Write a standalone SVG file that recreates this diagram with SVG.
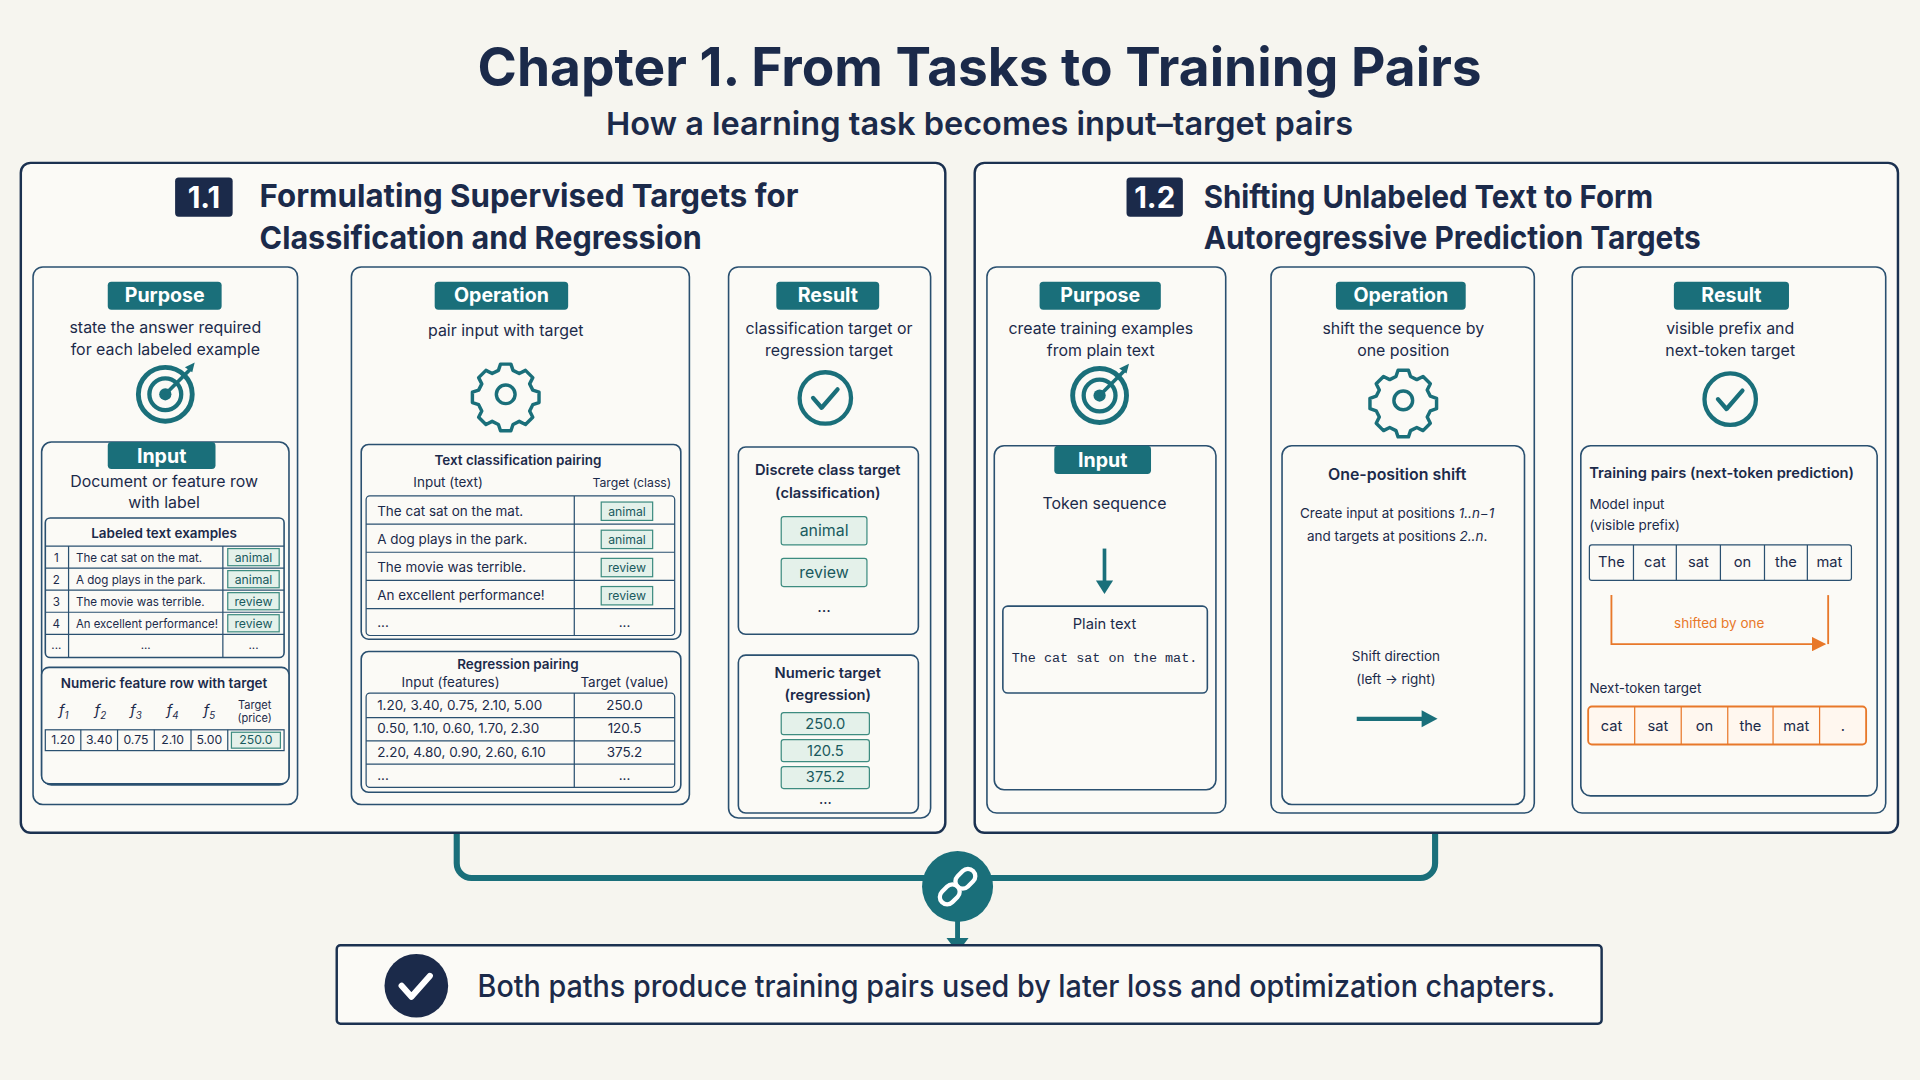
<svg xmlns="http://www.w3.org/2000/svg" width="1920" height="1080" viewBox="0 0 1920 1080">
<defs>
<style>
text{font-family:Inter,"Liberation Sans",sans-serif;fill:#1b2a4a}
.b{font-weight:700}
.panel{fill:#fbfaf6;stroke:#1b3150;stroke-width:2}
.col{fill:#fbfaf6;stroke:#2a5070;stroke-width:1.3}
.box{fill:#fbfaf6;stroke:#2a5070;stroke-width:1.3}
.pill{fill:#1a6f7a}
.pt{fill:#fff;font-weight:700;font-size:16px}
.lbl{fill:#e4f1ea;stroke:#3d8c80;stroke-width:1}
.lt{fill:#1a5a5e;font-size:10px}
.cell{fill:none;stroke:#2a5070;stroke-width:1}
.s12{font-size:12px}.s13{font-size:13px}.s11{font-size:11px}.s10{font-size:10px}
.ora{fill:#fff7ef;stroke:#e8782a;stroke-width:1.5}
</style>
<marker id="oa" markerWidth="8" markerHeight="8" refX="7" refY="4" orient="auto"><path d="M0,0L8,4L0,8z" fill="#e8782a"/></marker>
<g id="gear"><g transform="scale(0.85)"><path d="M-5,-24h10l2,6 6,3 6-3 7,7-3,6 3,6 6,2v10l-6,2-3,6 3,6-7,7-6-3-6,3-2,6h-10l-2-6-6-3-6,3-7-7 3-6-3-6-6-2v-10l6-2 3-6-3-6 7-7 6,3 6-3z" fill="none" stroke="#1a6f7a" stroke-width="3.3" stroke-linejoin="round" transform="translate(0,-5)"/><circle r="9" cy="0" fill="none" stroke="#1a6f7a" stroke-width="3.3"/></g></g>
<g id="target"><circle r="22" fill="none" stroke="#1a6f7a" stroke-width="4"/><circle r="13" fill="none" stroke="#1a6f7a" stroke-width="3.5"/><circle r="5" fill="#1a6f7a"/><path d="M0,0L20,-20" stroke="#1a6f7a" stroke-width="3"/><path d="M16,-22l8,-4-2,8z" fill="#1a6f7a"/></g>
<g id="check"><circle r="21" fill="none" stroke="#1a6f7a" stroke-width="3.5"/><path d="M-10,0l7,8 13,-15" fill="none" stroke="#1a6f7a" stroke-width="3.5" stroke-linecap="round" stroke-linejoin="round"/></g>
<path id="bigarrow" d="M0,-8h16v-10l16,18-16,18v-10h-16z" fill="#1a7a86"/>
</defs>
<rect width="1920" height="1080" fill="#f6f5ef"/>
<g transform="scale(1.22449)">
<text x="800" y="70" text-anchor="middle" class="b" font-size="44" textLength="820" lengthAdjust="spacingAndGlyphs">Chapter 1. From Tasks to Training Pairs</text>
<text x="800" y="110" text-anchor="middle" font-size="26" font-weight="600" textLength="610" lengthAdjust="spacingAndGlyphs">How a learning task becomes input–target pairs</text>

<g id="connectors">
<path d="M373,681V705a12,12 0 0 0 12,12H1160a12,12 0 0 0 12-12V681" fill="none" stroke="#1a6f7a" stroke-width="5"/>
<path d="M782,740V768" stroke="#1a6f7a" stroke-width="4"/><path d="M773,766h18l-9,12z" fill="#1a6f7a"/>
<circle cx="782" cy="724" r="29" fill="#1a6f7a"/>
<g transform="translate(782,724) rotate(-45)" fill="none" stroke="#fff" stroke-width="3.5"><rect x="-18" y="-6" width="18" height="12" rx="6"/><rect x="0" y="-6" width="18" height="12" rx="6"/></g>
<use href="#bigarrow" x="251" y="323"/><use href="#bigarrow" x="563" y="323"/>
<use href="#bigarrow" x="1004" y="323"/><use href="#bigarrow" x="1252" y="323"/>
</g>

<g id="panel1">
<rect class="panel" x="17" y="133" width="755" height="547" rx="8"/>
<rect x="143" y="145" width="47" height="32" rx="3" fill="#1b2a4a"/><text x="166.5" y="170" text-anchor="middle" font-size="24" class="b" style="fill:#fff">1.1</text>
<text x="212" y="169" class="b" font-size="26" textLength="440" lengthAdjust="spacingAndGlyphs">Formulating Supervised Targets for</text>
<text x="212" y="203" class="b" font-size="26" textLength="361" lengthAdjust="spacingAndGlyphs">Classification and Regression</text>
</g>
<g id="p1-purpose">
<rect class="col" x="27" y="218" width="216" height="439" rx="8"/>
<rect class="pill" x="88" y="230" width="93" height="23" rx="3"/><text class="pt" x="134.5" y="247" text-anchor="middle">Purpose</text>
<text x="135" y="272" text-anchor="middle" class="s13">state the answer required</text>
<text x="135" y="290" text-anchor="middle" class="s13">for each labeled example</text>
<use href="#target" x="135" y="322"/>
<rect class="box" x="34" y="361" width="202" height="280" rx="8"/>
<rect class="pill" x="88" y="361" width="88" height="22" rx="3"/><text class="pt" x="132" y="378" text-anchor="middle">Input</text>
<text x="134" y="398" text-anchor="middle" class="s13">Document or feature row</text>
<text x="134" y="415" text-anchor="middle" class="s13">with label</text>
<rect class="box" x="37" y="423" width="195" height="114" rx="4"/>
<text x="134" y="439" text-anchor="middle" class="s11" font-weight="600">Labeled text examples</text>
<path class="cell" d="M37,446H232M37,464H232M37,482H232M37,500H232M37,518H232M56,446V537M182,446V537"/>
<g font-size="9.5"><text x="46" y="459" text-anchor="middle">1</text><text x="46" y="477" text-anchor="middle">2</text><text x="46" y="495" text-anchor="middle">3</text><text x="46" y="513" text-anchor="middle">4</text><text x="46" y="530" text-anchor="middle">...</text>
<text x="62" y="459">The cat sat on the mat.</text><text x="62" y="477">A dog plays in the park.</text><text x="62" y="495">The movie was terrible.</text><text x="62" y="513" textLength="116" lengthAdjust="spacingAndGlyphs">An excellent performance!</text><text x="119" y="530" text-anchor="middle">...</text><text x="207" y="530" text-anchor="middle">...</text></g>
<rect class="lbl" x="186" y="448" width="42" height="14"/><text class="lt" x="207" y="459" text-anchor="middle">animal</text>
<rect class="lbl" x="186" y="466" width="42" height="14"/><text class="lt" x="207" y="477" text-anchor="middle">animal</text>
<rect class="lbl" x="186" y="484" width="42" height="14"/><text class="lt" x="207" y="495" text-anchor="middle">review</text>
<rect class="lbl" x="186" y="502" width="42" height="14"/><text class="lt" x="207" y="513" text-anchor="middle">review</text>
<rect class="box" x="34" y="545" width="202" height="95" rx="6"/>
<text x="134" y="562" text-anchor="middle" class="s11" font-weight="600">Numeric feature row with target</text>
<g font-style="italic" font-size="12"><text x="52" y="584" text-anchor="middle">f<tspan font-size="8" dy="3">1</tspan></text><text x="82" y="584" text-anchor="middle">f<tspan font-size="8" dy="3">2</tspan></text><text x="111" y="584" text-anchor="middle">f<tspan font-size="8" dy="3">3</tspan></text><text x="141" y="584" text-anchor="middle">f<tspan font-size="8" dy="3">4</tspan></text><text x="171" y="584" text-anchor="middle">f<tspan font-size="8" dy="3">5</tspan></text></g>
<text x="208" y="579" text-anchor="middle" font-size="9">Target</text><text x="208" y="590" text-anchor="middle" font-size="9">(price)</text>
<rect class="cell" x="37" y="596" width="195" height="17"/><path class="cell" d="M66,596V613M96,596V613M126,596V613M156,596V613M186,596V613"/>
<g class="s10" text-anchor="middle"><text x="51.5" y="608">1.20</text><text x="81" y="608">3.40</text><text x="111" y="608">0.75</text><text x="141" y="608">2.10</text><text x="171" y="608">5.00</text></g>
<rect class="lbl" x="189" y="598" width="40" height="13"/><text class="lt" x="209" y="608" text-anchor="middle">250.0</text>
</g>
<g id="p1-operation">
<rect class="col" x="287" y="218" width="276" height="439" rx="8"/>
<rect class="pill" x="355" y="230" width="109" height="23" rx="3"/><text class="pt" x="409.5" y="247" text-anchor="middle">Operation</text>
<text x="413" y="274" text-anchor="middle" class="s13">pair input with target</text>
<use href="#gear" x="413" y="322"/>
<rect class="box" x="295" y="363" width="261" height="159" rx="6"/>
<text x="423" y="380" text-anchor="middle" class="s11" font-weight="600">Text classification pairing</text>
<text x="366" y="398" text-anchor="middle" class="s11">Input (text)</text><text x="516" y="398" text-anchor="middle" class="s10">Target (class)</text>
<rect class="cell" x="299" y="405" width="252" height="114" rx="3"/><path class="cell" d="M299,428H551M299,451H551M299,474H551M299,497H551M469,405V519"/>
<g class="s11"><text x="308" y="421">The cat sat on the mat.</text><text x="308" y="444">A dog plays in the park.</text><text x="308" y="467">The movie was terrible.</text><text x="308" y="490">An excellent performance!</text><text x="308" y="512">...</text><text x="510" y="512" text-anchor="middle">...</text></g>
<rect class="lbl" x="491" y="410" width="42" height="15"/><text class="lt" x="512" y="421" text-anchor="middle">animal</text>
<rect class="lbl" x="491" y="433" width="42" height="15"/><text class="lt" x="512" y="444" text-anchor="middle">animal</text>
<rect class="lbl" x="491" y="456" width="42" height="15"/><text class="lt" x="512" y="467" text-anchor="middle">review</text>
<rect class="lbl" x="491" y="479" width="42" height="15"/><text class="lt" x="512" y="490" text-anchor="middle">review</text>
<rect class="box" x="295" y="532" width="261" height="115" rx="6"/>
<text x="423" y="546" text-anchor="middle" class="s11" font-weight="600">Regression pairing</text>
<text x="368" y="561" text-anchor="middle" class="s11">Input (features)</text><text x="510" y="561" text-anchor="middle" class="s11">Target (value)</text>
<rect class="cell" x="299" y="566" width="252" height="77" rx="3"/><path class="cell" d="M299,586H551M299,605H551M299,624H551M469,566V643"/>
<g class="s11"><text x="308" y="580">1.20, 3.40, 0.75, 2.10, 5.00</text><text x="308" y="599">0.50, 1.10, 0.60, 1.70, 2.30</text><text x="308" y="618">2.20, 4.80, 0.90, 2.60, 6.10</text><text x="308" y="637">...</text>
<text x="510" y="580" text-anchor="middle">250.0</text><text x="510" y="599" text-anchor="middle">120.5</text><text x="510" y="618" text-anchor="middle">375.2</text><text x="510" y="637" text-anchor="middle">...</text></g>
</g>
<g id="p1-result">
<rect class="col" x="595" y="218" width="165" height="450" rx="8"/>
<rect class="pill" x="634" y="230" width="84" height="23" rx="3"/><text class="pt" x="676" y="247" text-anchor="middle">Result</text>
<text x="677" y="273" text-anchor="middle" class="s13">classification target or</text>
<text x="677" y="291" text-anchor="middle" class="s13">regression target</text>
<use href="#check" x="674" y="325"/>
<rect class="box" x="603" y="365" width="147" height="153" rx="6"/>
<text x="676" y="388" text-anchor="middle" class="s12" font-weight="600">Discrete class target</text>
<text x="676" y="407" text-anchor="middle" class="s12" font-weight="600">(classification)</text>
<rect class="lbl" x="638" y="422" width="70" height="23" rx="2"/><text x="673" y="438" text-anchor="middle" class="s13" style="fill:#1a5a5e">animal</text>
<rect class="lbl" x="638" y="456" width="70" height="23" rx="2"/><text x="673" y="472" text-anchor="middle" class="s13" style="fill:#1a5a5e">review</text>
<text x="673" y="500" text-anchor="middle" class="s13">...</text>
<rect class="box" x="603" y="535" width="147" height="129" rx="6"/>
<text x="676" y="554" text-anchor="middle" class="s12" font-weight="600">Numeric target</text>
<text x="676" y="572" text-anchor="middle" class="s12" font-weight="600">(regression)</text>
<rect class="lbl" x="638" y="582" width="72" height="18" rx="2"/><text x="674" y="595" text-anchor="middle" class="s12" style="fill:#1a5a5e">250.0</text>
<rect class="lbl" x="638" y="604" width="72" height="18" rx="2"/><text x="674" y="617" text-anchor="middle" class="s12" style="fill:#1a5a5e">120.5</text>
<rect class="lbl" x="638" y="626" width="72" height="18" rx="2"/><text x="674" y="639" text-anchor="middle" class="s12" style="fill:#1a5a5e">375.2</text>
<text x="674" y="657" text-anchor="middle" class="s12">...</text>
</g>

<g id="panel2">
<rect class="panel" x="796" y="133" width="754" height="547" rx="8"/>
<rect x="920" y="145" width="46" height="32" rx="3" fill="#1b2a4a"/><text x="943" y="170" text-anchor="middle" font-size="24" class="b" style="fill:#fff">1.2</text>
<text x="983" y="170" class="b" font-size="26" textLength="367" lengthAdjust="spacingAndGlyphs">Shifting Unlabeled Text to Form</text>
<text x="983" y="203" class="b" font-size="26" textLength="406" lengthAdjust="spacingAndGlyphs">Autoregressive Prediction Targets</text>
</g>
<g id="p2-purpose">
<rect class="col" x="806" y="218" width="195" height="446" rx="8"/>
<rect class="pill" x="849" y="230" width="99" height="23" rx="3"/><text class="pt" x="898.5" y="247" text-anchor="middle">Purpose</text>
<text x="899" y="273" text-anchor="middle" class="s13">create training examples</text>
<text x="899" y="291" text-anchor="middle" class="s13">from plain text</text>
<use href="#target" x="898" y="323"/>
<rect class="box" x="812" y="364" width="181" height="281" rx="8"/>
<rect class="pill" x="861" y="364" width="79" height="23" rx="3"/><text class="pt" x="900.5" y="381" text-anchor="middle">Input</text>
<text x="902" y="416" text-anchor="middle" class="s13">Token sequence</text>
<path d="M902,448V476" stroke="#1a6f7a" stroke-width="3"/><path d="M895,474h14l-7,11z" fill="#1a6f7a"/>
<rect class="box" x="819" y="495" width="167" height="71" rx="4"/>
<text x="902" y="514" text-anchor="middle" class="s12">Plain text</text>
<text x="902" y="541" text-anchor="middle" font-size="11" style="font-family:'Liberation Mono','DejaVu Sans Mono',monospace">The cat sat on the mat.</text>
</g>
<g id="p2-operation">
<rect class="col" x="1038" y="218" width="215" height="446" rx="8"/>
<rect class="pill" x="1091" y="230" width="106" height="23" rx="3"/><text class="pt" x="1144" y="247" text-anchor="middle">Operation</text>
<text x="1146" y="273" text-anchor="middle" class="s13">shift the sequence by</text>
<text x="1146" y="291" text-anchor="middle" class="s13">one position</text>
<use href="#gear" x="1146" y="327"/>
<rect class="box" x="1047" y="364" width="198" height="293" rx="8"/>
<text x="1141" y="392" text-anchor="middle" font-size="13" font-weight="600">One-position shift</text>
<text x="1141" y="423" text-anchor="middle" class="s11">Create input at positions <tspan font-style="italic">1..n−1</tspan></text>
<text x="1141" y="442" text-anchor="middle" class="s11">and targets at positions <tspan font-style="italic">2..n</tspan>.</text>
<text x="1140" y="540" text-anchor="middle" class="s11">Shift direction</text>
<text x="1140" y="559" text-anchor="middle" class="s11">(left → right)</text>
<path d="M1108,587H1163" stroke="#1a6f7a" stroke-width="3.5"/><path d="M1161,580l13,7-13,7z" fill="#1a6f7a"/>
</g>
<g id="p2-result">
<rect class="col" x="1284" y="218" width="256" height="446" rx="8"/>
<rect class="pill" x="1367" y="230" width="94" height="23" rx="3"/><text class="pt" x="1414" y="247" text-anchor="middle">Result</text>
<text x="1413" y="273" text-anchor="middle" class="s13">visible prefix and</text>
<text x="1413" y="291" text-anchor="middle" class="s13">next-token target</text>
<use href="#check" x="1413" y="326"/>
<rect class="box" x="1291" y="364" width="242" height="286" rx="8"/>
<text x="1406" y="390" text-anchor="middle" class="s12" font-weight="600">Training pairs (next-token prediction)</text>
<text x="1298" y="416" class="s11">Model input</text><text x="1298" y="433" class="s11">(visible prefix)</text>
<rect class="cell" x="1298" y="445" width="214" height="29" rx="2"/><path class="cell" d="M1334,445V474M1369,445V474M1405,445V474M1441,445V474M1476,445V474"/>
<g class="s12" text-anchor="middle"><text x="1316" y="463">The</text><text x="1351.5" y="463">cat</text><text x="1387" y="463">sat</text><text x="1423" y="463">on</text><text x="1458.5" y="463">the</text><text x="1494" y="463">mat</text></g>
<path d="M1316,486V526H1490" fill="none" stroke="#e8782a" stroke-width="1.5" marker-end="url(#oa)"/><path d="M1493,486V526" stroke="#e8782a" stroke-width="1.5"/>
<text x="1404" y="513" text-anchor="middle" class="s11" style="fill:#e8782a">shifted by one</text>
<text x="1298" y="566" class="s11">Next-token target</text>
<rect class="ora" x="1297" y="577" width="227" height="31" rx="3"/><path d="M1335,577V608M1373,577V608M1411,577V608M1448,577V608M1486,577V608" stroke="#e8782a" stroke-width="1"/>
<g class="s12" text-anchor="middle"><text x="1316" y="597">cat</text><text x="1354" y="597">sat</text><text x="1392" y="597">on</text><text x="1429.5" y="597">the</text><text x="1467" y="597">mat</text><text x="1505" y="597">.</text></g>
</g>

<g id="summary">
<rect x="275" y="772" width="1033" height="64" rx="3" fill="#fbfaf6" stroke="#1b3150" stroke-width="2"/>
<circle cx="340" cy="805" r="26" fill="#1b2a4a"/><path d="M328,805l8,9 15,-17" fill="none" stroke="#fff" stroke-width="5" stroke-linecap="round" stroke-linejoin="round"/>
<text x="390" y="814" font-size="25" font-weight="500" textLength="880" lengthAdjust="spacingAndGlyphs">Both paths produce training pairs used by later loss and optimization chapters.</text>
</g>
</g>
</svg>
